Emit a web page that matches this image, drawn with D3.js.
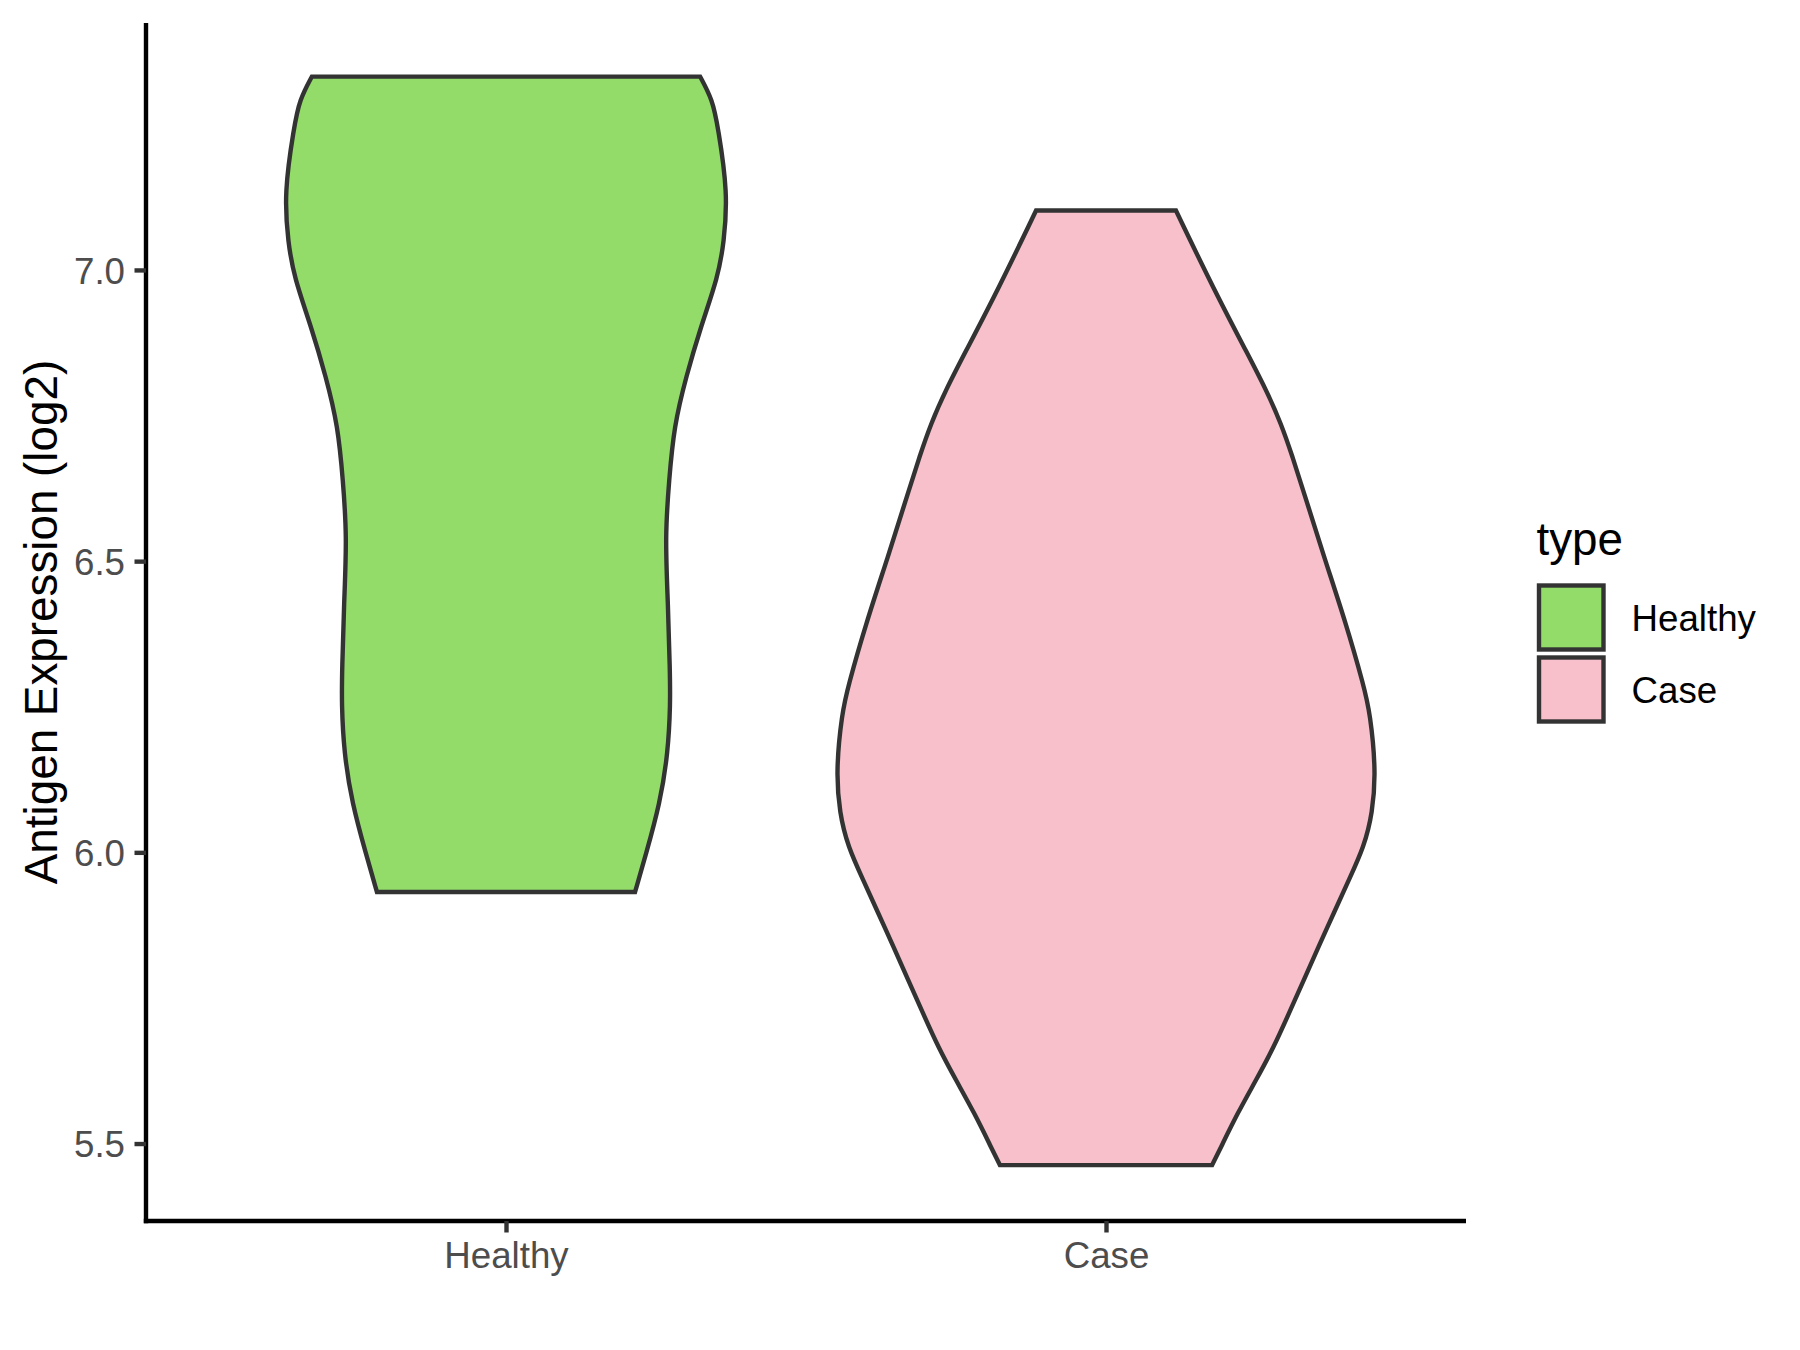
<!DOCTYPE html>
<html>
<head>
<meta charset="utf-8">
<script src="https://cdn.jsdelivr.net/npm/d3@7"></script>
<style>
  html, body { margin: 0; padding: 0; background: #ffffff; }
  svg { display: block; font-family: "Liberation Sans", Arial, Helvetica, sans-serif; }
</style>
</head>
<body>
<svg id="chart" width="1800" height="1350"></svg>
<script>
// ---- data ----
const categories = ["Healthy", "Case"];
const yTicks = [5.5, 6.0, 6.5, 7.0];
const fillColors = ["#93DC6A", "#F7C0CB"];

// Healthy violin: expression values (ascending) and relative density (width)
const healthyValues  = [5.932, 5.998, 6.084, 6.170, 6.256, 6.313, 6.428, 6.542, 6.639, 6.731, 6.817, 6.903, 6.988, 7.046, 7.132, 7.246, 7.292, 7.332];
const healthyDensity = [0.478, 0.519, 0.570, 0.600, 0.609, 0.607, 0.600, 0.589, 0.604, 0.622, 0.667, 0.722, 0.785, 0.807, 0.822, 0.785, 0.765, 0.719];

// Case violin
const caseValues  = [5.463, 5.494, 5.552, 5.609, 5.666, 5.724, 5.781, 5.838, 5.896, 5.953, 6.010, 6.067, 6.141, 6.239, 6.284, 6.393, 6.508, 6.622, 6.679, 6.737, 6.794, 6.851, 6.966, 7.102];
const caseDensity = [0.393, 0.426, 0.487, 0.556, 0.622, 0.678, 0.733, 0.787, 0.844, 0.900, 0.956, 0.987, 1.000, 0.978, 0.956, 0.889, 0.807, 0.730, 0.691, 0.648, 0.593, 0.530, 0.400, 0.259];

const violinValues = [healthyValues, caseValues];
const violinDensity = [healthyDensity, caseDensity];

// ---- layout ----
const svg = d3.select("#chart");
const panel = { left: 146, right: 1466, top: 23, bottom: 1221 };
const lineW = 4.4;
const tickFont = 36.7;

const x = d3.scalePoint().domain(categories).range([panel.left, panel.right]).padding(0.6);
const y = d3.scaleLinear().domain([5.367, 7.424]).range([panel.bottom, panel.top]);
const w = d3.scaleLinear().domain([0, 1]).range([0, x.step() * 0.45]);

// ---- violins ----
const line = d3.line().curve(d3.curveBasis);
categories.forEach((cat, i) => {
  const cx = x(cat);
  const vals = violinValues[i], dens = violinDensity[i];
  const right = vals.map((v, j) => [cx + w(dens[j]), y(v)]);
  const left = vals.map((v, j) => [cx - w(dens[j]), y(v)]).reverse();
  const d = line(right) + "L" + line(left).slice(1) + "Z";
  svg.append("path")
    .attr("d", d)
    .attr("fill", fillColors[i])
    .attr("stroke", "#333333")
    .attr("stroke-width", lineW)
    .attr("stroke-linejoin", "miter");
});

// ---- axes ----
const yAxis = d3.axisLeft(y).tickValues(yTicks).tickFormat(d3.format(".1f"))
  .tickSize(11.5).tickSizeOuter(0).tickPadding(9.5);
const gy = svg.append("g").attr("transform", `translate(${panel.left},0)`).call(yAxis);

const xAxis = d3.axisBottom(x).tickSize(11.5).tickSizeOuter(0).tickPadding(9.5);
const gx = svg.append("g").attr("transform", `translate(0,${panel.bottom})`).call(xAxis);

[gy, gx].forEach(g => {
  g.select(".domain").attr("stroke", "#000000").attr("stroke-width", lineW);
  g.selectAll(".tick line").attr("stroke", "#333333").attr("stroke-width", lineW);
  g.selectAll(".tick text")
    .attr("fill", "#4D4D4D")
    .style("font-size", tickFont + "px")
    .style("font-family", '"Liberation Sans", Arial, Helvetica, sans-serif');
});
gy.selectAll(".tick text").attr("dy", "0.36em");
gy.select(".domain").attr("d", `M0,${panel.bottom + lineW / 2}V${panel.top}`);
gx.select(".domain").attr("d", `M${panel.left - lineW / 2},0H${panel.right}`);

// axis title
svg.append("text")
  .attr("transform", `translate(57,${(panel.top + panel.bottom) / 2}) rotate(-90)`)
  .attr("text-anchor", "middle")
  .attr("fill", "#000000")
  .style("font-size", "45.8px")
  .text("Antigen Expression (log2)");

// ---- legend ----
const legend = svg.append("g");
legend.append("text")
  .attr("x", 1536.5).attr("y", 555)
  .attr("fill", "#000000")
  .style("font-size", "45.8px")
  .text("type");

categories.forEach((cat, i) => {
  const top = 581.5 + i * 72;
  legend.append("rect")
    .attr("x", 1539).attr("y", top + 4)
    .attr("width", 64.5).attr("height", 64)
    .attr("fill", fillColors[i])
    .attr("stroke", "#333333")
    .attr("stroke-width", lineW);
  legend.append("text")
    .attr("x", 1631.5).attr("y", top + 36 + 13)
    .attr("fill", "#000000")
    .style("font-size", tickFont + "px")
    .text(cat);
});
</script>
</body>
</html>
